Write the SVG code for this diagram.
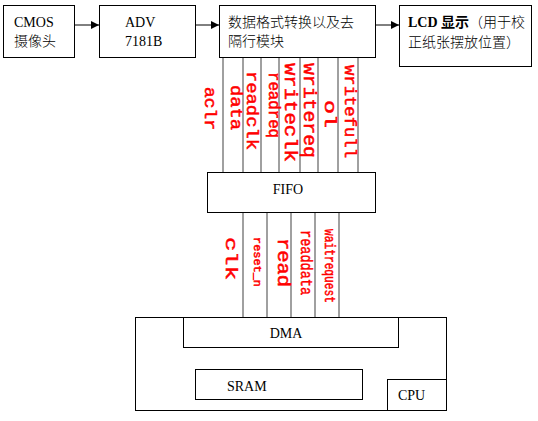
<svg xmlns="http://www.w3.org/2000/svg" width="538" height="421" viewBox="0 0 538 421">
<defs>
<marker id="ah" markerWidth="8" markerHeight="8" refX="8" refY="4" orient="auto" markerUnits="userSpaceOnUse">
<path d="M0,0 L8,4 L0,8 Z" fill="#000"/>
</marker>
<style>
.box{fill:#fff;stroke:#000;stroke-width:1}
.t{font-family:"Liberation Serif","Noto Sans CJK SC",serif;font-size:14px;fill:#000}
.c{font-weight:300}
.b{font-weight:bold}
.wire{stroke:#808080;stroke-width:1.5;fill:none}
.arr{stroke:#000;stroke-width:1;fill:none}
.r{font-family:"Liberation Mono","DejaVu Sans Mono",monospace;font-weight:normal;fill:#ff0000;stroke:#ff0000;stroke-width:0.5;dominant-baseline:central}
</style>
</defs>
<rect width="538" height="421" fill="#fff"/>

<g id="connectors">
<line class="arr" x1="75" y1="25" x2="99" y2="25" marker-end="url(#ah)"/>
<line class="arr" x1="196" y1="25" x2="219" y2="25" marker-end="url(#ah)"/>
<line class="arr" x1="376" y1="25" x2="399" y2="25" marker-end="url(#ah)"/>
<line class="arr" x1="279" y1="348" x2="279" y2="369" marker-end="url(#ah)"/>
<g class="wire">
<line x1="223" y1="57" x2="223" y2="172"/>
<line x1="243" y1="57" x2="243" y2="172"/>
<line x1="261" y1="57" x2="261" y2="172"/>
<line x1="279" y1="57" x2="279" y2="172"/>
<line x1="300" y1="57" x2="300" y2="172"/>
<line x1="318" y1="57" x2="318" y2="172"/>
<line x1="338" y1="57" x2="338" y2="172"/>
<line x1="358" y1="57" x2="358" y2="172"/>
<line x1="243" y1="213" x2="243" y2="317"/>
<line x1="267" y1="213" x2="267" y2="317"/>
<line x1="291" y1="213" x2="291" y2="317"/>
<line x1="315" y1="213" x2="315" y2="317"/>
<line x1="339" y1="213" x2="339" y2="317"/>
</g>
<g id="labels">
<text class="r" font-size="17" textLength="43" lengthAdjust="spacingAndGlyphs" transform="translate(209,87) rotate(90)">aclr</text>
<text class="r" font-size="17" textLength="45" lengthAdjust="spacingAndGlyphs" transform="translate(235,85) rotate(90)">data</text>
<text class="r" font-size="17" textLength="79" lengthAdjust="spacingAndGlyphs" transform="translate(251,71) rotate(90)">readclk</text>
<text class="r" font-size="16" textLength="66" lengthAdjust="spacingAndGlyphs" transform="translate(273,72) rotate(90)">readreq</text>
<text class="r" font-size="18" textLength="99" lengthAdjust="spacingAndGlyphs" transform="translate(290,63) rotate(90)">writeclk</text>
<text class="r" font-size="18" textLength="95" lengthAdjust="spacingAndGlyphs" transform="translate(309,63) rotate(90)">writereq</text>
<text class="r" font-size="17" textLength="28" lengthAdjust="spacingAndGlyphs" transform="translate(329,100) rotate(90)">ol</text>
<text class="r" font-size="17" textLength="93" lengthAdjust="spacingAndGlyphs" transform="translate(349,65) rotate(90)">writefull</text>
<text class="r" font-size="17" textLength="43" lengthAdjust="spacingAndGlyphs" transform="translate(230,237) rotate(90)">clk</text>
<text class="r" font-size="11" textLength="50" lengthAdjust="spacingAndGlyphs" transform="translate(257,237) rotate(90)">reset_n</text>
<text class="r" font-size="18" textLength="49" lengthAdjust="spacingAndGlyphs" transform="translate(283,238) rotate(90)">read</text>
<text class="r" font-size="16" textLength="65" lengthAdjust="spacingAndGlyphs" transform="translate(305,230) rotate(90)">readdata</text>
<text class="r" font-size="14" textLength="74" lengthAdjust="spacingAndGlyphs" transform="translate(329,229) rotate(90)">waitrequest</text>
</g>
</g>

<g id="cmos">
<rect class="box" x="3.5" y="5.5" width="71" height="52"/>
<text class="t" x="14" y="27">CMOS</text>
<text class="t c" x="14" y="46">摄像头</text>
</g>
<g id="adv">
<rect class="box" x="99.5" y="5.5" width="96" height="52"/>
<text class="t" x="125" y="27">ADV</text>
<text class="t" x="125" y="46">7181B</text>
</g>
<g id="convert">
<rect class="box" x="219.5" y="5.5" width="156" height="52"/>
<text class="t c" x="228" y="27" font-size="15">数据格式转换以及去</text>
<text class="t c" x="228" y="46" font-size="15">隔行模块</text>
</g>
<g id="lcd">
<rect class="box" x="399.5" y="5.5" width="132" height="61"/>
<text class="t" x="408" y="27"><tspan class="b">LCD 显示</tspan><tspan class="c">（用于校</tspan></text>
<text class="t c" x="408" y="47">正纸张摆放位置）</text>
</g>
<g id="fifo">
<rect class="box" x="207.5" y="172.5" width="168" height="40"/>
<text class="t" x="288" y="194" text-anchor="middle">FIFO</text>
</g>
<g id="cpu">
<rect class="box" x="135.5" y="317.5" width="311" height="93"/>
<rect class="box" x="387.5" y="379.5" width="59" height="31"/>
<text class="t" x="398" y="400">CPU</text>
</g>
<g id="dma">
<rect class="box" x="183.5" y="317.5" width="215" height="30"/>
<text class="t" x="286" y="338" text-anchor="middle">DMA</text>
</g>
<g id="sram">
<rect class="box" x="195.5" y="369.5" width="167" height="30"/>
<text class="t" x="227" y="391">SRAM</text>
</g>
</svg>
